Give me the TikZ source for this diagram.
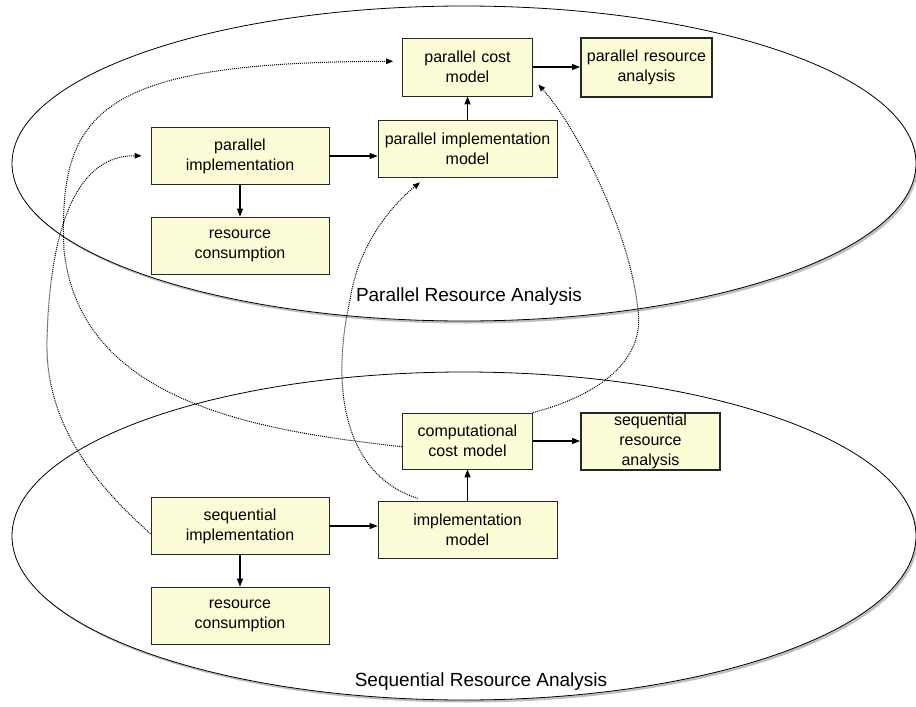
\documentclass[tikz,border=0pt]{standalone}
\usepackage{fontspec}
\setmainfont{Liberation Sans}
\usetikzlibrary{positioning}
\usetikzlibrary{shadows}
\usetikzlibrary{arrows.meta}
\definecolor{boxfill}{RGB}{252,252,214}
\tikzset{RAstyle/.style={
    x=1pt, y=-1pt,% one unit is one pixel of the sketch, y grows downwards
    on grid,% place nodes by their centres
    font=\fontsize{16}{20}\selectfont,
    box/.style={% plain step of the analysis
      draw=black!85,
      fill=boxfill,
      line width=0.8pt,
      inner sep=0pt,
      align=center,
      text width=##1,
      minimum width=##1,
      minimum height=57pt
    },
    resbox/.style={box=##1, line width=2pt},% final result
    area/.style={draw, line width=0.8pt, fill=white,
      drop shadow={shadow xshift=2pt, shadow yshift=-2.5pt, opacity=.5}},
    flow/.style={-{Triangle[length=8pt,width=6pt]}, line width=1.1pt},
    link/.style={-{Triangle[length=7pt,width=5.5pt]}, dash pattern=on 1pt off 1pt, line width=1pt},
    >=Triangle
  }
}

\begin{document}
\begin{tikzpicture}[RAstyle]
  \useasboundingbox (0,0) rectangle (916,707);

  % the two analyses
  \path[area] (464,163.5) ellipse [x radius=452pt, y radius=157.5pt];
  \path[area] (464,536) ellipse [x radius=452pt, y radius=164pt];
  \node[font=\fontsize{19}{23}\selectfont] (plabel) at (469,297) {Parallel Resource Analysis};
  \node[font=\fontsize{19}{23}\selectfont] (slabel) at (481,682) {Sequential Resource Analysis};

  % parallel side
  \node[box=178pt] (pi) at (240,156) {parallel\\implementation};
  \node[box=178pt, below=89.5pt of pi] (rc1) {resource\\consumption};
  \node[box=179pt, above right=7.5pt and 227.5pt of pi] (pim) {parallel implementation\\model};
  \node[box=130pt, minimum height=58pt, above=81.5pt of pim] (pcm) {parallel cost\\model};
  \node[resbox=131pt, minimum height=59pt, right=179pt of pcm] (pra) {parallel resource\\analysis};

  % sequential side
  \node[box=178pt, below=370pt of pi] (si) {sequential\\implementation};
  \node[box=178pt, below=89.5pt of si] (rc2) {resource\\consumption};
  \node[box=179pt, below right=4pt and 227.5pt of si] (im) {implementation\\model};
  \node[box=130pt, minimum height=56pt, above=89pt of im] (ccm) {computational\\cost model};
  \node[resbox=139pt, right=183pt of ccm] (sra) {sequential\\resource\\analysis};

  \draw[flow] (pi.east) -- (pi.east -| pim.west);
  \draw[flow] (pi.south) -- (rc1.north);
  \draw[flow] (pim.north) -- (pcm.south);
  \draw[flow] (pcm.east) -- (pcm.east -| pra.west);
  \draw[flow] (si.east) -- (si.east -| im.west);
  \draw[flow] (si.south) -- (rc2.north);
  \draw[flow] (im.north) -- (ccm.south);
  \draw[flow] (ccm.east) -- (ccm.east -| sra.west);

  % from sequential to parallel
  \draw[link, shorten >=9pt] (ccm.185) .. controls (250,430) and (80,400) .. (64,250)
    .. controls (58,110) and (100,62) .. (pcm.175);
  \draw[link, shorten >=9pt] (si.185) .. controls (90,480) and (45,420) .. (47,340)
    .. controls (50,220) and (80,155) .. (pi.west);
  \draw[link, shorten <=9pt, shorten >=8pt] (im.145) .. controls (345,475) and (330,390) .. (350,300)
    .. controls (358,245) and (392,205) .. (pim.215);
  \draw[link, shorten >=8pt] (ccm.north east) .. controls (600,395) and (645,360) .. (638,310)
    .. controls (630,230) and (575,125) .. (pcm.-10);
\end{tikzpicture}
\end{document}
